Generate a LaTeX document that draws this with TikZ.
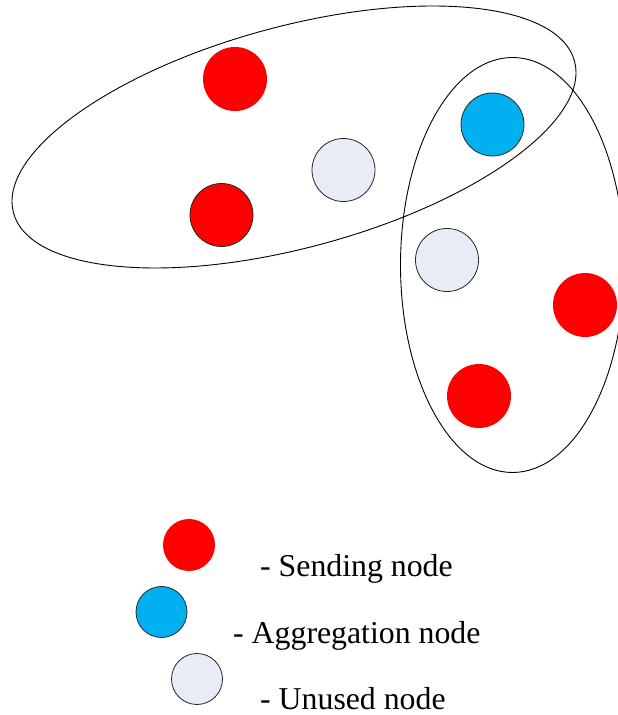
\documentclass[tikz,border=0pt]{standalone}
\usepackage{fontspec}
\setmainfont{Liberation Serif}
\definecolor{sendred}{HTML}{FF0000}
\definecolor{aggblue}{HTML}{00B0F0}
\definecolor{unusedgray}{HTML}{E7ECF6}
\begin{document}
\begin{tikzpicture}[x=1pt,y=1pt,
  sendnode/.style={circle,fill=sendred,inner sep=0pt,minimum size=64pt},
  sendnodeline/.style={sendnode,draw=black!85,line width=0.8pt,minimum size=63pt},
  aggnode/.style={circle,fill=aggblue,draw=black!85,line width=0.8pt,inner sep=0pt,minimum size=63pt},
  unusednode/.style={circle,fill=unusedgray,draw=black!85,line width=0.8pt,inner sep=0pt,minimum size=63pt},
  legsend/.style={sendnode,minimum size=52pt},
  legagg/.style={aggnode,minimum size=51pt},
  legunused/.style={unusednode,minimum size=51pt},
  group/.style={draw=black,line width=0.9pt},
  legtext/.style={anchor=base west,inner sep=0pt,font=\fontsize{31.8}{36}\selectfont}]
\useasboundingbox (0,0) rectangle (618,715);
% groups
\draw[group,rotate around={15.14:(294,578)}] (294,578) ellipse [x radius=290.6, y radius=110.6];
\draw[group] (512.5,450) ellipse [x radius=112, y radius=207.5];
% nodes
\node[sendnode] (r1) at (235,636) {};
\node[sendnodeline] (r2) at (221.5,500) {};
\node[unusednode] (u1) at (343.5,545) {};
\node[aggnode] (b1) at (492.5,590.5) {};
\node[unusednode] (u2) at (447,455) {};
\node[sendnode] (r3) at (585,410) {};
\node[sendnode] (r4) at (479,319) {};
% legend
\node[legsend] (lr) at (189,170) {};
\node[legagg] (lb) at (161.5,103) {};
\node[legunused] (lu) at (197,36) {};
\node[legtext] (tr) at (260,138) {- Sending node};
\node[legtext] (tb) at (233,71.5) {- Aggregation node};
\node[legtext] (tu) at (260,5.5) {- Unused node};
\end{tikzpicture}
\end{document}
